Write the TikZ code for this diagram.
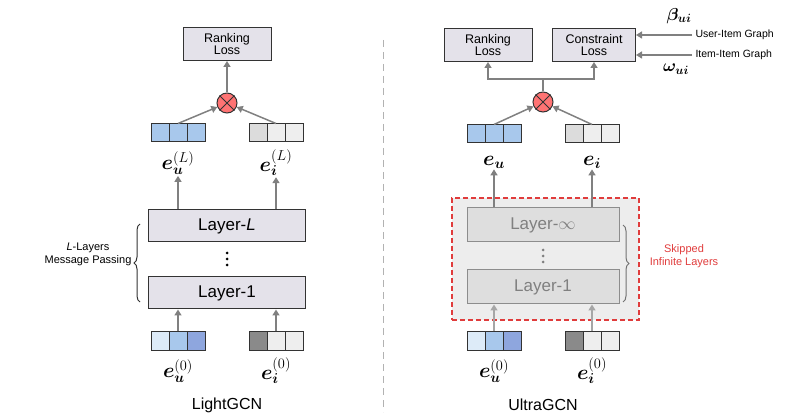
\documentclass[tikz,border=0pt]{standalone}
\usepackage{bm}
\usepackage{fontspec}
\setmainfont{Liberation Sans}
\usetikzlibrary{arrows.meta,decorations.pathreplacing,shapes.misc}
\definecolor{boxf}{HTML}{E4E2EA}
\definecolor{dk}{HTML}{333333}
\definecolor{ar}{HTML}{808080}
\definecolor{rd}{HTML}{E03C3C}
\tikzset{
 lbox/.style={draw=dk,line width=1pt,fill=boxf,minimum width=88pt,minimum height=33pt,align=center,font=\fontsize{12.5}{12.5}\selectfont,inner sep=0pt},
 layer/.style={draw=dk,line width=1pt,fill=boxf,minimum width=157pt,minimum height=32pt,font=\fontsize{17}{17}\selectfont,inner sep=0pt},
 glayer/.style={draw=ar!90,line width=1pt,fill=black!13,minimum width=152pt,minimum height=34pt,font=\fontsize{17}{17}\selectfont,text=black!50,inner sep=0pt},
 cell/.style={draw=dk,line width=1pt,minimum width=18pt,minimum height=18pt,inner sep=0pt},
 arr/.style={draw=ar,line width=1.5pt,-{Triangle[length=6pt,width=7pt]}},
 larr/.style={draw=black!35,line width=1.5pt,-{Triangle[length=6pt,width=7pt]}},
 ot/.style={circle,draw=dk,fill=red!55!white,line width=1pt,minimum size=20pt,inner sep=0pt},
 lab/.style={font=\fontsize{16}{16}\selectfont},
 elab/.style={font=\fontsize{21}{21}\selectfont,inner sep=1pt},
 dot/.style={circle,inner sep=0pt,minimum size=3pt},
}
\newcommand\emb[6]{%
 \node[cell,fill=#4] (#1-1) at ({#2-18},#3) {};
 \node[cell,fill=#5] (#1-2) at (#2,#3) {};
 \node[cell,fill=#6] (#1-3) at ({#2+18},#3) {};}
\newcommand\vdts[4]{%
 \node[dot,fill=#4] (#1a) at (#2,{#3-6}) {};
 \node[dot,fill=#4] (#1b) at (#2,#3) {};
 \node[dot,fill=#4] (#1c) at (#2,{#3+6}) {};}
\begin{document}
\begin{tikzpicture}[x=1pt,y=-1pt]
\useasboundingbox (0,0) rectangle (800,419);
\definecolor{bl}{HTML}{A8C8EC}
\definecolor{g1}{HTML}{DCDCDC}
\definecolor{g2}{HTML}{EEEEEE}
\definecolor{b0a}{HTML}{DDEBF8}
\definecolor{b0c}{HTML}{8EA6DE}
\definecolor{gd}{HTML}{8A8A8A}
% ---------- LightGCN ----------
\node[lbox] (rl1) at (227,44) {Ranking\\Loss};
\node[ot] (ot1) at (227,103) {};
\draw[dk,line width=1pt] (ot1.north west)--(ot1.south east) (ot1.north east)--(ot1.south west);
\emb{euL}{178}{133}{bl}{bl}{bl}
\emb{eiL}{276}{133}{g1}{g2}{g2}
\node[elab] (leuL) at (178,163) {$\bm{e}_{\bm{u}}^{(L)}$};
\node[elab] (leiL) at (276,163) {$\bm{e}_{\bm{i}}^{(L)}$};
\node[layer] (lL) at (227,226) {Layer-\textit{L}};
\vdts{d1}{227}{259}{black}
\node[layer] (l1) at (227,293) {Layer-1};
\emb{eu0}{178}{341}{b0a}{bl}{b0c}
\emb{ei0}{276}{341}{gd}{g2}{g2}
\node[elab] (leu0) at (178,371) {$\bm{e}_{\bm{u}}^{(0)}$};
\node[elab] (lei0) at (276,371) {$\bm{e}_{\bm{i}}^{(0)}$};
\node[lab] (t1) at (227,405) {LightGCN};
\draw[arr] (ot1) -- (rl1);
\draw[arr] (euL-2.north) -- (ot1);
\draw[arr] (eiL-2.north) -- (ot1);
\draw[arr] (lL.north -| leuL) -- (leuL.south);
\draw[arr] (lL.north -| leiL) -- (leiL.south);
\draw[arr] (eu0-2.north) -- (l1.south -| eu0-2);
\draw[arr] (ei0-2.north) -- (l1.south -| ei0-2);
\coordinate (b1a) at (140,302); \coordinate (b1b) at (140,224);
\draw[dk,line width=1pt,decorate,decoration={brace,amplitude=6pt}] (b1a) -- (b1b);
\node[align=center,font=\fontsize{11}{13}\selectfont] (blab1) at (88,254) {\textit{L}-Layers\\Message Passing};
% divider
\coordinate (dvt) at (383,40); \coordinate (dvb) at (383,412);
\draw[black!30,line width=1pt,dash pattern=on 7pt off 5pt] (dvt) -- (dvb);
% ---------- UltraGCN ----------
\node[lbox] (rl2) at (488,45) {Ranking\\Loss};
\node[lbox,minimum width=83pt] (cl) at (594,45) {Constraint\\Loss};
\node[ot] (ot2) at (543,102) {};
\draw[dk,line width=1pt] (ot2.north west)--(ot2.south east) (ot2.north east)--(ot2.south west);
\coordinate (br) at (543,79);
\draw[ar,line width=1.5pt] (ot2.north) -- (br);
\draw[arr] (br) -| (rl2.south);
\draw[arr] (br) -| (cl.south);
\node[anchor=west,font=\fontsize{10.5}{10.5}\selectfont] (uig) at (692,35) {User-Item Graph};
\node[anchor=west,font=\fontsize{10.5}{10.5}\selectfont] (iig) at (692,55) {Item-Item Graph};
\draw[arr] (uig.west) -- (uig.west -| cl.east);
\draw[arr] (iig.west) -- (iig.west -| cl.east);
\node[elab,font=\fontsize{18}{18}\selectfont] (beta) at (679,16) {$\bm{\beta}_{\bm{ui}}$};
\node[elab,font=\fontsize{18}{18}\selectfont] (omega) at (676,69) {$\bm{\omega}_{\bm{ui}}$};
\emb{eu}{494}{134}{bl}{bl}{bl}
\emb{ei}{592}{134}{g1}{g2}{g2}
\node[elab] (leu) at (494,162) {$\bm{e}_{\bm{u}}$};
\node[elab] (lei) at (592,162) {$\bm{e}_{\bm{i}}$};
\draw[arr] (eu-2.north) -- (ot2);
\draw[arr] (ei-2.north) -- (ot2);
\node[draw=rd,line width=1.2pt,dash pattern=on 5pt off 3pt,fill=black!7,minimum width=187pt,minimum height=122pt] (skip) at (545.5,259) {};
\node[glayer] (li) at (543,225) {Layer-$\infty$};
\vdts{d2}{543}{256}{black!50}
\node[glayer] (l12) at (543,287) {Layer-1};
\draw[ar,line width=1.5pt] (li.north -| leu) -- (skip.north -| leu);
\draw[ar,line width=1.5pt] (li.north -| lei) -- (skip.north -| lei);
\draw[arr] (skip.north -| leu) -- (leu.south);
\draw[arr] (skip.north -| lei) -- (lei.south);
\emb{eu0r}{494}{341}{b0a}{bl}{b0c}
\emb{ei0r}{592}{341}{gd}{g2}{g2}
\draw[larr] (eu0r-2.north) -- (l12.south -| eu0r-2);
\draw[larr] (ei0r-2.north) -- (l12.south -| ei0r-2);
\node[elab] (leu0r) at (494,371) {$\bm{e}_{\bm{u}}^{(0)}$};
\node[elab] (lei0r) at (592,371) {$\bm{e}_{\bm{i}}^{(0)}$};
\node[lab] (t2) at (543,405) {UltraGCN};
\coordinate (b2a) at (623,225); \coordinate (b2b) at (623,302);
\draw[black!55,line width=1pt,decorate,decoration={brace,amplitude=6pt}] (b2a) -- (b2b);
\node[align=center,text=rd,font=\fontsize{11}{13}\selectfont] (blab2) at (684,256) {Skipped\\Infinite Layers};
\end{tikzpicture}
\end{document}
